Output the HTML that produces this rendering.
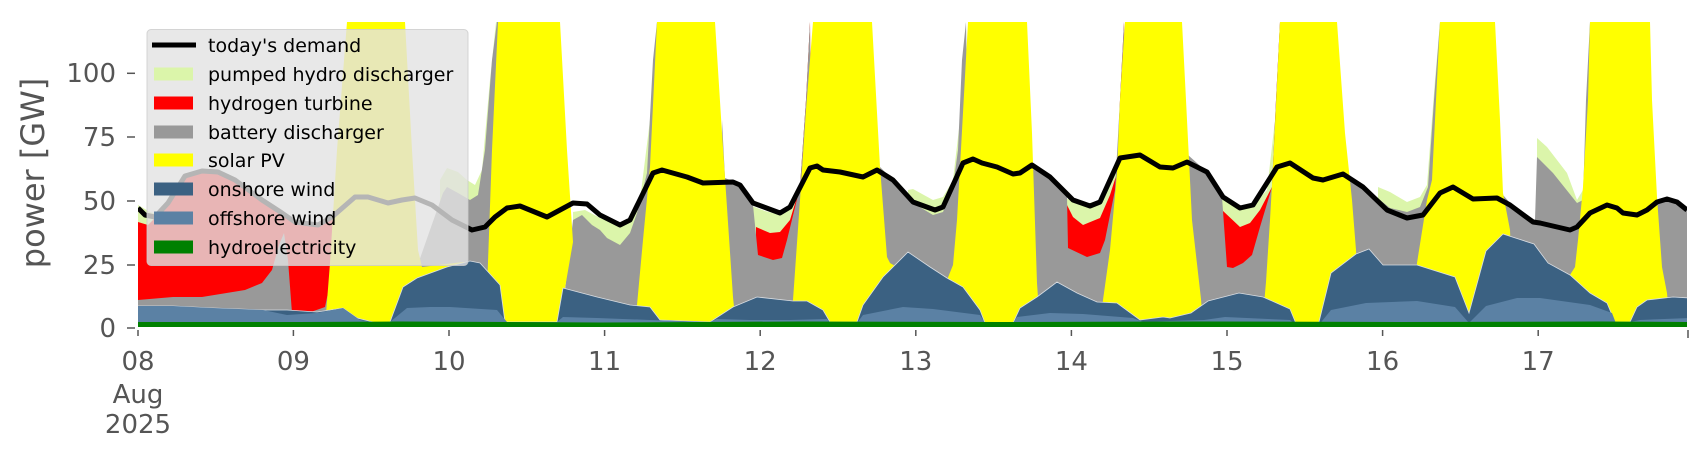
<!DOCTYPE html>
<html><head><meta charset="utf-8"><style>
html,body{margin:0;padding:0;background:#fff;}
svg{display:block;font-family:"DejaVu Sans","Liberation Sans",sans-serif;}
</style></head><body>
<svg width="1706" height="460" viewBox="0 0 1706 460" xmlns="http://www.w3.org/2000/svg">
<defs><clipPath id="c"><rect x="138" y="22" width="1549" height="305"/></clipPath></defs>
<g clip-path="url(#c)">
<g fill="#dbf5aa">
<polygon points="138,205 150,212 160,215 160,327 138,327"/>
<polygon points="440,180 447,168 458,172 467,180 475,185 482,170 490,80 496,22 500,22 500,327 440,327"/>
<polygon points="573,212 585,210 600,218 610,222 620,225 630,220 640,200 650,120 657,22 660,327 573,327"/>
<polygon points="752,206 765,211 780,215 790,208 800,187 806,100 810,22 812,327 752,327"/>
<polygon points="908,190 913,189 933,200 943,197 953,180 960,120 966,22 970,327 908,327"/>
<polygon points="1065,198 1083,205 1100,200 1110,185 1117,165 1122,60 1125,22 1128,327 1065,327"/>
<polygon points="1220,197 1240,208 1253,205 1267,190 1275,120 1280,22 1283,327 1220,327"/>
<polygon points="1378,187 1390,192 1407,202 1420,197 1427,185 1435,80 1440,22 1442,327 1378,327"/>
<polygon points="1537,138 1547,147 1567,173 1577,200 1583,190 1587,100 1590,22 1592,327 1537,327"/>
</g>
<g fill="#ff0000">
<polygon points="138,222 148,225 155,218 168,203 185,176 202,172 218,173 235,181 262,200 282,213 295,222 318,225 332,217 340,200 340,327 138,327"/>
<polygon points="756,227 770,233 780,232 790,220 800,187 806,100 810,22 812,327 756,327"/>
<polygon points="1067,205 1073,217 1083,225 1100,218 1110,195 1117,173 1120,100 1124,22 1128,327 1067,327"/>
<polygon points="1222,210 1240,227 1250,223 1260,210 1272,187 1276,100 1280,22 1283,327 1222,327"/>
</g>
<g fill="#999999">
<polygon points="138,300 173,297 202,297 245,290 262,283 272,270 279,245 284,233 288,260 292,313 308,313 325,307 335,260 340,200 342,327 138,327"/>
<polygon points="415,327 417,267 430,230 443,193 447,187 458,193 470,200 478,195 485,150 492,60 497,22 502,22 502,327"/>
<polygon points="562,327 565,290 573,220 582,215 592,225 600,230 607,238 620,245 630,233 637,213 647,173 653,60 657,22 660,327"/>
<polygon points="720,327 722,120 725,178 740,184 753,205 758,255 773,260 782,258 787,240 800,187 806,100 810,22 812,327"/>
<polygon points="878,327 880,167 893,180 913,203 933,215 943,212 953,187 958,150 962,60 966,22 970,327"/>
<polygon points="1030,327 1032,165 1050,177 1067,197 1068,248 1087,257 1100,253 1105,240 1115,190 1120,100 1124,22 1128,327"/>
<polygon points="1185,327 1188,155 1207,172 1222,197 1227,267 1233,268 1243,263 1252,255 1260,227 1272,187 1276,100 1280,22 1283,327"/>
<polygon points="1343,327 1345,174 1363,187 1380,200 1390,208 1407,212 1420,207 1428,187 1434,100 1440,22 1442,327"/>
<polygon points="1500,327 1503,195 1510,203 1520,210 1535,220 1537,157 1553,173 1577,203 1583,200 1586,100 1590,22 1592,327"/>
<polygon points="1655,327 1657,202 1667,199 1677,202 1687,210 1687,327"/>
</g>
<g fill="#ffff00">
<polygon points="325,327 330,263 337,150 347,22 405,22 412,150 418,250 422,267 463,262 470,262 478,327"/>
<polygon points="482,327 487,290 492,150 498,22 560,22 567,150 573,242 565,288 563,327"/>
<polygon points="633,327 637,305 643,240 650,167 657,22 715,22 722,133 733,297 736,327"/>
<polygon points="790,327 793,300 800,200 806,110 813,22 872,22 880,167 887,257 890,263 910,275 947,280 953,265 957,220 960,167 968,22 1027,22 1032,133 1037,283 1040,327"/>
<polygon points="1100,327 1103,300 1110,250 1117,173 1120,100 1125,22 1182,22 1186,100 1192,220 1201,299 1203,327"/>
<polygon points="1262,327 1266,282 1270,220 1273,167 1280,22 1337,22 1345,133 1352,200 1356,250 1360,327"/>
<polygon points="1412,327 1417,263 1427,200 1432,180 1436,100 1440,22 1495,22 1500,120 1503,193 1510,230 1514,327"/>
<polygon points="1568,327 1570,275 1575,267 1578,240 1583,187 1588,100 1590,22 1650,22 1652,100 1657,197 1662,267 1667,293 1670,327"/>
</g>
<polygon fill="#3b6182" stroke="#d8dde3" stroke-width="0.8" points="138,306 173,306 213,308 263,310 287,310 317,312 343,308 357,318 377,323 390,322 403,287 417,278 447,267 470,261 480,263 500,285 505,322 557,322 563,288 597,297 630,305 650,307 660,320 710,322 733,307 757,297 793,301 807,301 823,310 830,322 857,322 863,305 883,277 908,252 930,267 947,278 963,287 980,310 985,323 1013,323 1020,308 1037,297 1057,282 1077,293 1097,302 1117,303 1140,320 1163,317 1170,318 1191,313 1208,301 1239,293 1263,297 1290,309 1297,326 1318,326 1331,273 1356,254 1369,249 1383,265 1417,265 1455,277 1469,313 1486,251 1503,234 1534,244 1548,263 1570,275 1590,293 1607,303 1615,322 1630,322 1637,307 1647,300 1673,297 1690,298 1690,330 138,330"/>
<polygon fill="#5b81a4" points="138,306 173,306 213,308 263,310 287,315 317,313 343,308 360,320 377,323 390,322 407,308 430,307 450,307 497,310 507,322 557,322 563,317 597,318 650,320 710,322 717,319 750,320 790,320 827,319 830,323 857,323 863,315 903,307 933,309 980,315 985,323 1013,323 1017,317 1050,313 1083,314 1133,318 1143,322 1170,321 1204,320 1225,317 1290,320 1297,326 1318,326 1331,310 1366,303 1417,301 1455,307 1469,323 1486,306 1517,298 1540,298 1590,305 1612,313 1617,326 1630,322 1640,320 1690,318 1690,330 138,330"/>
<polygon fill="#008000" points="138,322 300,322 400,321.5 600,322.5 800,321.5 1000,322 1200,321.5 1400,322 1600,321.5 1690,322 1690,330 138,330"/>
<polyline fill="none" stroke="#000" stroke-width="5" stroke-linejoin="round" points="138,208 145,215 155,217 168,203 185,176 202,171 218,172 235,180 262,200 282,213 295,222 318,225 332,217 355,197 368,197 388,203 402,200 415,198 432,205 452,220 472,230 485,227 495,217 507,208 520,206 547,217 573,203 587,204 600,215 620,225 630,220 653,173 662,170 687,177 703,183 733,182 740,185 753,203 780,213 790,207 810,168 817,166 823,170 840,172 863,177 877,170 893,180 913,202 935,210 943,207 963,163 973,159 982,163 997,167 1013,174 1020,173 1032,165 1050,177 1073,200 1090,206 1100,202 1120,158 1140,155 1160,167 1173,168 1187,162 1207,172 1223,197 1240,208 1253,205 1277,167 1290,163 1313,178 1323,180 1343,174 1363,187 1387,210 1407,218 1423,215 1440,193 1453,187 1473,199 1497,198 1510,205 1533,222 1540,223 1570,230 1577,227 1590,213 1607,205 1617,208 1623,213 1637,215 1647,210 1657,202 1667,199 1677,202 1687,210"/>
</g>
<rect x="147" y="29.5" width="321" height="236" rx="4" fill="rgb(226,226,226)" fill-opacity="0.8" stroke="#cccccc" stroke-opacity="0.8" stroke-width="1"/>
<line x1="152" y1="45" x2="196" y2="45" stroke="#000" stroke-width="5"/>
<rect x="154" y="67.5" width="39" height="13" fill="#dbf5aa"/>
<rect x="154" y="96.5" width="39" height="13" fill="#ff0000"/>
<rect x="154" y="125.5" width="39" height="13" fill="#999999"/>
<rect x="154" y="153.5" width="39" height="13" fill="#ffff00"/>
<rect x="154" y="182.5" width="39" height="13" fill="#3b6182"/>
<rect x="154" y="211.5" width="39" height="13" fill="#5b81a4"/>
<rect x="154" y="240.5" width="39" height="13" fill="#008000"/>
<g font-size="19" fill="#000">
<text x="208" y="52">today's demand</text>
<text x="208" y="81">pumped hydro discharger</text>
<text x="208" y="110">hydrogen turbine</text>
<text x="208" y="139">battery discharger</text>
<text x="208" y="167">solar PV</text>
<text x="208" y="196">onshore wind</text>
<text x="208" y="225">offshore wind</text>
<text x="208" y="254">hydroelectricity</text>
</g>
<g stroke="#555" stroke-width="1.5">
<line x1="127" y1="73.3" x2="135" y2="73.3"/>
<line x1="127" y1="137" x2="135" y2="137"/>
<line x1="127" y1="201" x2="135" y2="201"/>
<line x1="127" y1="265" x2="135" y2="265"/>
<line x1="127" y1="328" x2="135" y2="328"/>
</g>
<g font-size="26" fill="#555" text-anchor="end">
<text x="116" y="82">100</text>
<text x="116" y="146">75</text>
<text x="116" y="210">50</text>
<text x="116" y="274">25</text>
<text x="116" y="337">0</text>
</g>
<text x="44" y="173" font-size="32" fill="#555" text-anchor="middle" transform="rotate(-90 44 173)">power [GW]</text>
<g stroke="#555" stroke-width="1.5">
<line x1="138" y1="330" x2="138" y2="336"/>
<line x1="293.4" y1="330" x2="293.4" y2="336"/>
<line x1="449" y1="330" x2="449" y2="336"/>
<line x1="604.6" y1="330" x2="604.6" y2="336"/>
<line x1="760.2" y1="330" x2="760.2" y2="336"/>
<line x1="915.8" y1="330" x2="915.8" y2="336"/>
<line x1="1071.4" y1="330" x2="1071.4" y2="336"/>
<line x1="1227" y1="330" x2="1227" y2="336"/>
<line x1="1382.6" y1="330" x2="1382.6" y2="336"/>
<line x1="1538.2" y1="330" x2="1538.2" y2="336"/>
<line x1="1688" y1="330" x2="1688" y2="338"/>
</g>
<g font-size="26" fill="#555" text-anchor="middle">
<text x="138" y="370">08</text>
<text x="138" y="403">Aug</text>
<text x="138" y="433">2025</text>
<text x="293.4" y="370">09</text>
<text x="449" y="370">10</text>
<text x="604.6" y="370">11</text>
<text x="760.2" y="370">12</text>
<text x="915.8" y="370">13</text>
<text x="1071.4" y="370">14</text>
<text x="1227" y="370">15</text>
<text x="1382.6" y="370">16</text>
<text x="1538.2" y="370">17</text>
</g>
</svg>
</body></html>
